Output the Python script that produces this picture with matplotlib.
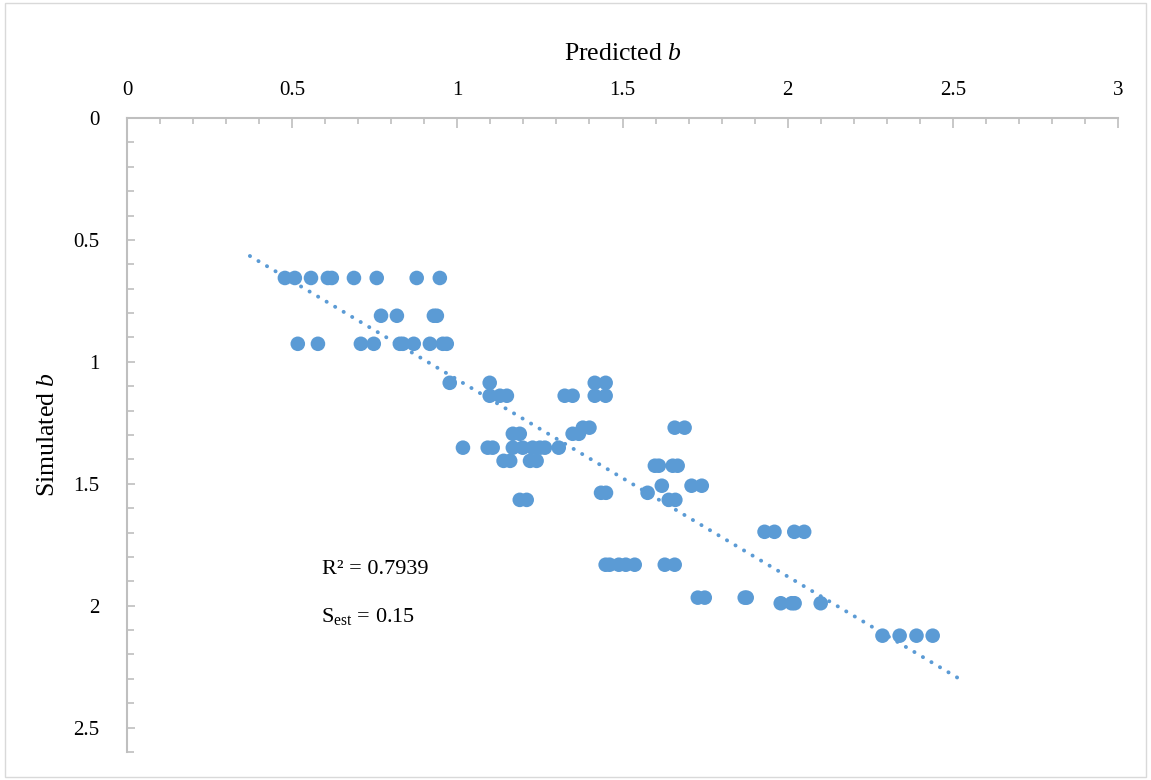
import numpy as np
import matplotlib
matplotlib.use("Agg")
import matplotlib.pyplot as plt
from matplotlib.patches import Rectangle

predicted_b = [0.478, 0.508, 0.557, 0.608, 0.620, 0.687, 0.756, 0.877, 0.947,
               0.769, 0.817, 0.929, 0.938,
               0.517, 0.578, 0.708, 0.747, 0.826, 0.835, 0.868, 0.917, 0.956, 0.968,
               0.977, 1.098, 1.416, 1.449,
               1.098, 1.129, 1.150, 1.325, 1.349, 1.416, 1.449,
               1.380, 1.400, 1.658, 1.688,
               1.168, 1.189, 1.349, 1.368,
               1.017, 1.092, 1.107, 1.168, 1.198, 1.228, 1.250, 1.265, 1.307,
               1.140, 1.160, 1.220, 1.240,
               1.598, 1.610, 1.652, 1.667,
               1.619, 1.709, 1.740,
               1.435, 1.450, 1.576,
               1.189, 1.210, 1.640, 1.660,
               1.930, 1.960, 2.020, 2.050,
               1.449, 1.461, 1.489, 1.510, 1.537, 1.628, 1.658,
               1.728, 1.749, 1.870, 1.876,
               1.979, 2.012, 2.021, 2.100,
               2.287, 2.339, 2.390, 2.439]
simulated_b = [0.656] * 9 + [0.811] * 4 + [0.926] * 10 + [1.086] * 4 + [1.139] * 7 \
    + [1.270] * 4 + [1.295] * 4 + [1.352] * 9 + [1.406] * 4 + [1.426] * 4 \
    + [1.508] * 3 + [1.537] * 3 + [1.566] * 4 + [1.697] * 4 + [1.832] * 7 \
    + [1.967] * 4 + [1.990] * 4 + [2.123] * 4

trend_x_range = [0.372, 2.525]
r2_text = "R² = 0.7939"
sest_value = "0.15"

plt.rcParams['font.family'] = ['Liberation Serif', 'DejaVu Serif']
plt.rcParams['mathtext.fontset'] = 'custom'
plt.rcParams['mathtext.rm'] = 'Liberation Serif'
plt.rcParams['mathtext.it'] = 'Liberation Serif:italic'

fig = plt.figure(figsize=(11.51, 7.80), dpi=100)
fig.patches.append(Rectangle((0.004, 0.004), 0.992, 0.992, transform=fig.transFigure,
                             fill=False, edgecolor='#D9D9D9', linewidth=1))
ax = fig.add_axes([127 / 1151, 1 - 752 / 780, 991 / 1151, 634 / 780])

blue = '#5B9BD5'
ax.scatter(predicted_b, simulated_b, s=110, color=blue, edgecolors='none', zorder=3)

coef = np.polyfit(predicted_b, simulated_b, 1)
tx = np.array(trend_x_range)
ax.plot(tx, np.polyval(coef, tx), color=blue, linewidth=2.8,
        linestyle=(0, (0.05, 2.5)), dash_capstyle='round', zorder=2)

ax.set_xlim(0, 3)
ax.set_ylim(2.6, 0)
ax.xaxis.tick_top()
ax.xaxis.set_label_position('top')
ax.set_xticks(np.arange(0, 3.01, 0.5))
ax.set_xticks(np.arange(0, 3.01, 0.1), minor=True)
ax.set_yticks(np.arange(0, 2.51, 0.5))
ax.set_yticks(np.arange(0, 2.61, 0.1), minor=True)
ax.set_xticklabels(['0', '0.5', '1', '1.5', '2', '2.5', '3'])
ax.set_yticklabels(['0', '0.5', '1', '1.5', '2', '2.5'])

for s in ['right', 'bottom']:
    ax.spines[s].set_visible(False)
for s in ['left', 'top']:
    ax.spines[s].set_color('#BFBFBF')
    ax.spines[s].set_linewidth(1.5)

ax.tick_params(axis='x', which='major', direction='in', length=7, color='#BFBFBF',
               width=1.2, labelsize=15, pad=13)
ax.tick_params(axis='x', which='minor', direction='in', length=4, color='#BFBFBF', width=1.2)
ax.tick_params(axis='y', which='major', direction='in', length=6, color='#BFBFBF',
               width=1.2, labelsize=15, pad=20)
ax.tick_params(axis='y', which='minor', direction='in', length=5, color='#BFBFBF', width=1.2)

ax.set_xlabel('Predicted $b$', fontsize=18.5, labelpad=15)
ax.set_ylabel('Simulated $b$', fontsize=18.5, labelpad=10)

ax.text(0.75, 1.852, r2_text, fontsize=16, ha='center', va='center')
ax.text(0.729, 2.045, r'S$_{\rm est}$ = ' + sest_value, fontsize=16, ha='center', va='center')

fig.savefig('out.png', dpi=100)
